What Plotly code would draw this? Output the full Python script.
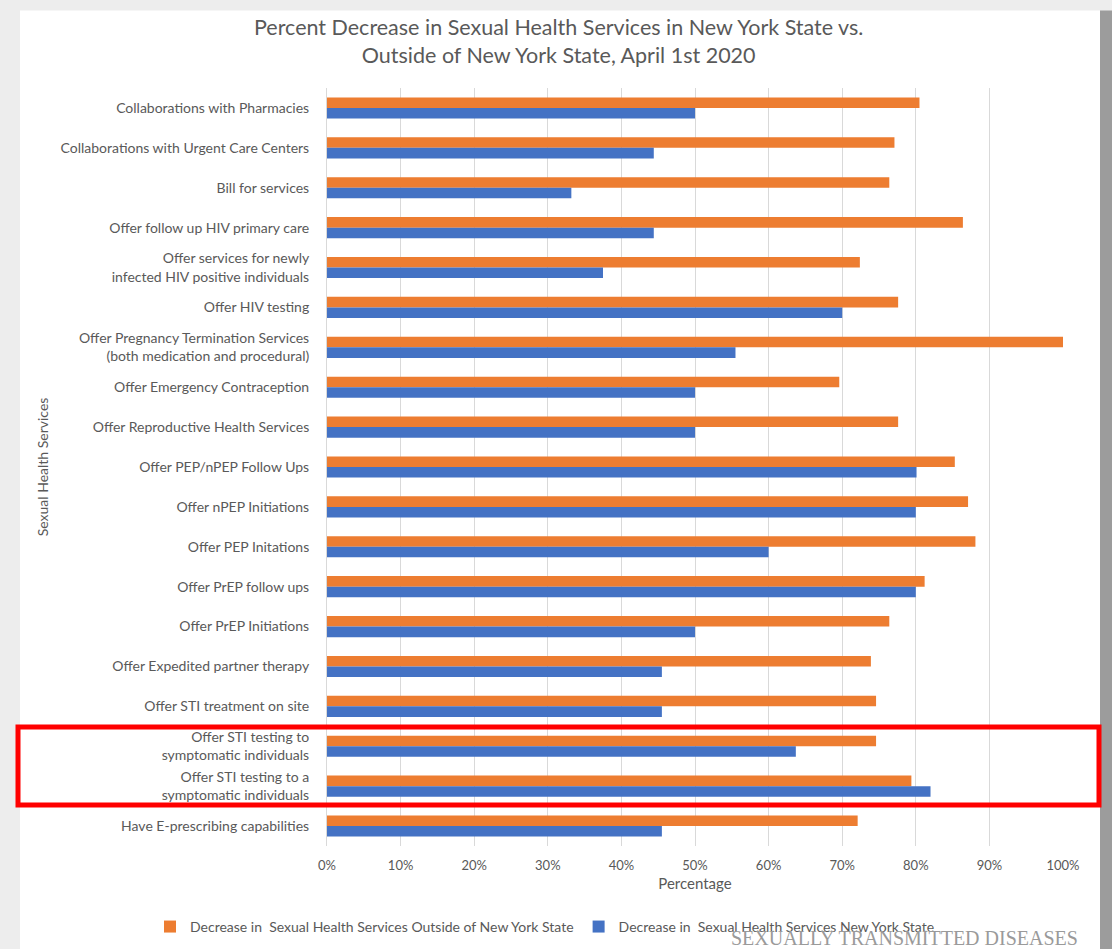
import plotly.graph_objects as go

categories = [
    "Collaborations with Pharmacies",
    "Collaborations with Urgent Care Centers",
    "Bill for services",
    "Offer follow up HIV primary care",
    "Offer services for newly<br>infected HIV positive individuals",
    "Offer HIV testing",
    "Offer Pregnancy Termination Services<br>(both medication and procedural)",
    "Offer Emergency Contraception",
    "Offer Reproductive Health Services",
    "Offer PEP/nPEP Follow Ups",
    "Offer nPEP Initiations",
    "Offer PEP Initations",
    "Offer PrEP follow ups",
    "Offer PrEP Initiations",
    "Offer Expedited partner therapy",
    "Offer STI treatment on site",
    "Offer STI testing to<br>symptomatic individuals",
    "Offer STI testing to a<br>symptomatic individuals",
    "Have E-prescribing capabilities",
]

outside_ny = [80.5, 77.1, 76.4, 86.4, 72.4, 77.6, 100.0, 69.6, 77.6, 85.3,
              87.1, 88.1, 81.2, 76.4, 73.9, 74.6, 74.6, 79.4, 72.1]
ny_state = [50.0, 44.4, 33.2, 44.4, 37.5, 70.0, 55.5, 50.0, 50.0, 80.1,
            80.0, 60.0, 80.0, 50.0, 45.5, 45.5, 63.7, 82.0, 45.5]

x_ticks = [0, 10, 20, 30, 40, 50, 60, 70, 80, 90, 100]
x_tick_labels = ["0%", "10%", "20%", "30%", "40%", "50%", "60%", "70%", "80%", "90%", "100%"]

W, H = 1112, 949
L, R, T, B = 327, 1063, 87.5, 846

def px(x):
    return (x - L) / (R - L)

def py(y):
    return (B - y) / (B - T)

FONT = "Lato, 'Open Sans', sans-serif"
TXT = "#595959"

fig = go.Figure()
fig.add_trace(go.Bar(
    y=categories, x=outside_ny, orientation="h",
    name="Decrease in  Sexual Health Services Outside of New York State",
    marker=dict(color="#ED7D31", line=dict(width=0)),
))
fig.add_trace(go.Bar(
    y=categories, x=ny_state, orientation="h",
    name="Decrease in  Sexual Health Services New York State",
    marker=dict(color="#4472C4", line=dict(width=0)),
))

shapes = [
    dict(type="rect", xref="paper", yref="paper", layer="below",
         x0=px(20), x1=px(1100), y0=py(949), y1=py(10),
         fillcolor="white", line=dict(width=0)),
    dict(type="rect", xref="paper", yref="paper", layer="below",
         x0=px(1100), x1=px(1112), y0=py(949), y1=py(10),
         fillcolor="#9c9c9c", line=dict(width=0)),
    dict(type="rect", xref="paper", yref="paper", layer="above",
         x0=px(18), x1=px(1099), y0=py(805), y1=py(727),
         fillcolor="rgba(0,0,0,0)", line=dict(color="#FF0000", width=5)),
]

fig.update_layout(
    width=W, height=H,
    margin=dict(l=L, r=W - R, t=T, b=H - B, autoexpand=False),
    paper_bgcolor="#ededed",
    plot_bgcolor="white",
    barmode="group",
    bargap=0.47,
    bargroupgap=0,
    font=dict(family=FONT, color=TXT, size=13),
    xaxis=dict(
        range=[0, 100], tickmode="array", tickvals=x_ticks, ticktext=x_tick_labels,
        showgrid=True, gridcolor="#d9d9d9", gridwidth=1,
        zeroline=False, showline=False,
        tickfont=dict(size=13, color=TXT),
        ticklabelstandoff=10,
        title=dict(text="Percentage", font=dict(size=15, color=TXT), standoff=6),
        fixedrange=True,
    ),
    yaxis=dict(
        autorange="reversed",
        showgrid=False, zeroline=False,
        showline=True, linecolor="#d9d9d9", linewidth=1,
        tickfont=dict(size=14, color=TXT),
        ticklabelstandoff=14,
        title=dict(text="Sexual Health Services", font=dict(size=14, color=TXT), standoff=8),
    ),
    legend=dict(
        orientation="h",
        x=px(150), xanchor="left",
        y=py(927), yanchor="middle",
        font=dict(size=14, color=TXT),
        bgcolor="rgba(0,0,0,0)",
        itemwidth=30,
        traceorder="normal",
    ),
    shapes=shapes,
    annotations=[
        dict(text="Percent Decrease in Sexual Health Services in New York State vs.<br>Outside of New York State, April 1st 2020",
             xref="paper", yref="paper", x=px(558), xanchor="center",
             y=py(40), yanchor="middle", align="center", showarrow=False,
             font=dict(size=21.5, color=TXT, family=FONT)),
        dict(text="SEXUALLY TRANSMITTED DISEASES", xref="paper", yref="paper",
             x=px(730), xanchor="left", y=py(938), yanchor="middle",
             showarrow=False, borderpad=0,
             font=dict(family="'Liberation Serif', 'DejaVu Serif', serif", size=20, color="#9a9a9a")),
    ],
)

fig.write_html("out.html")
